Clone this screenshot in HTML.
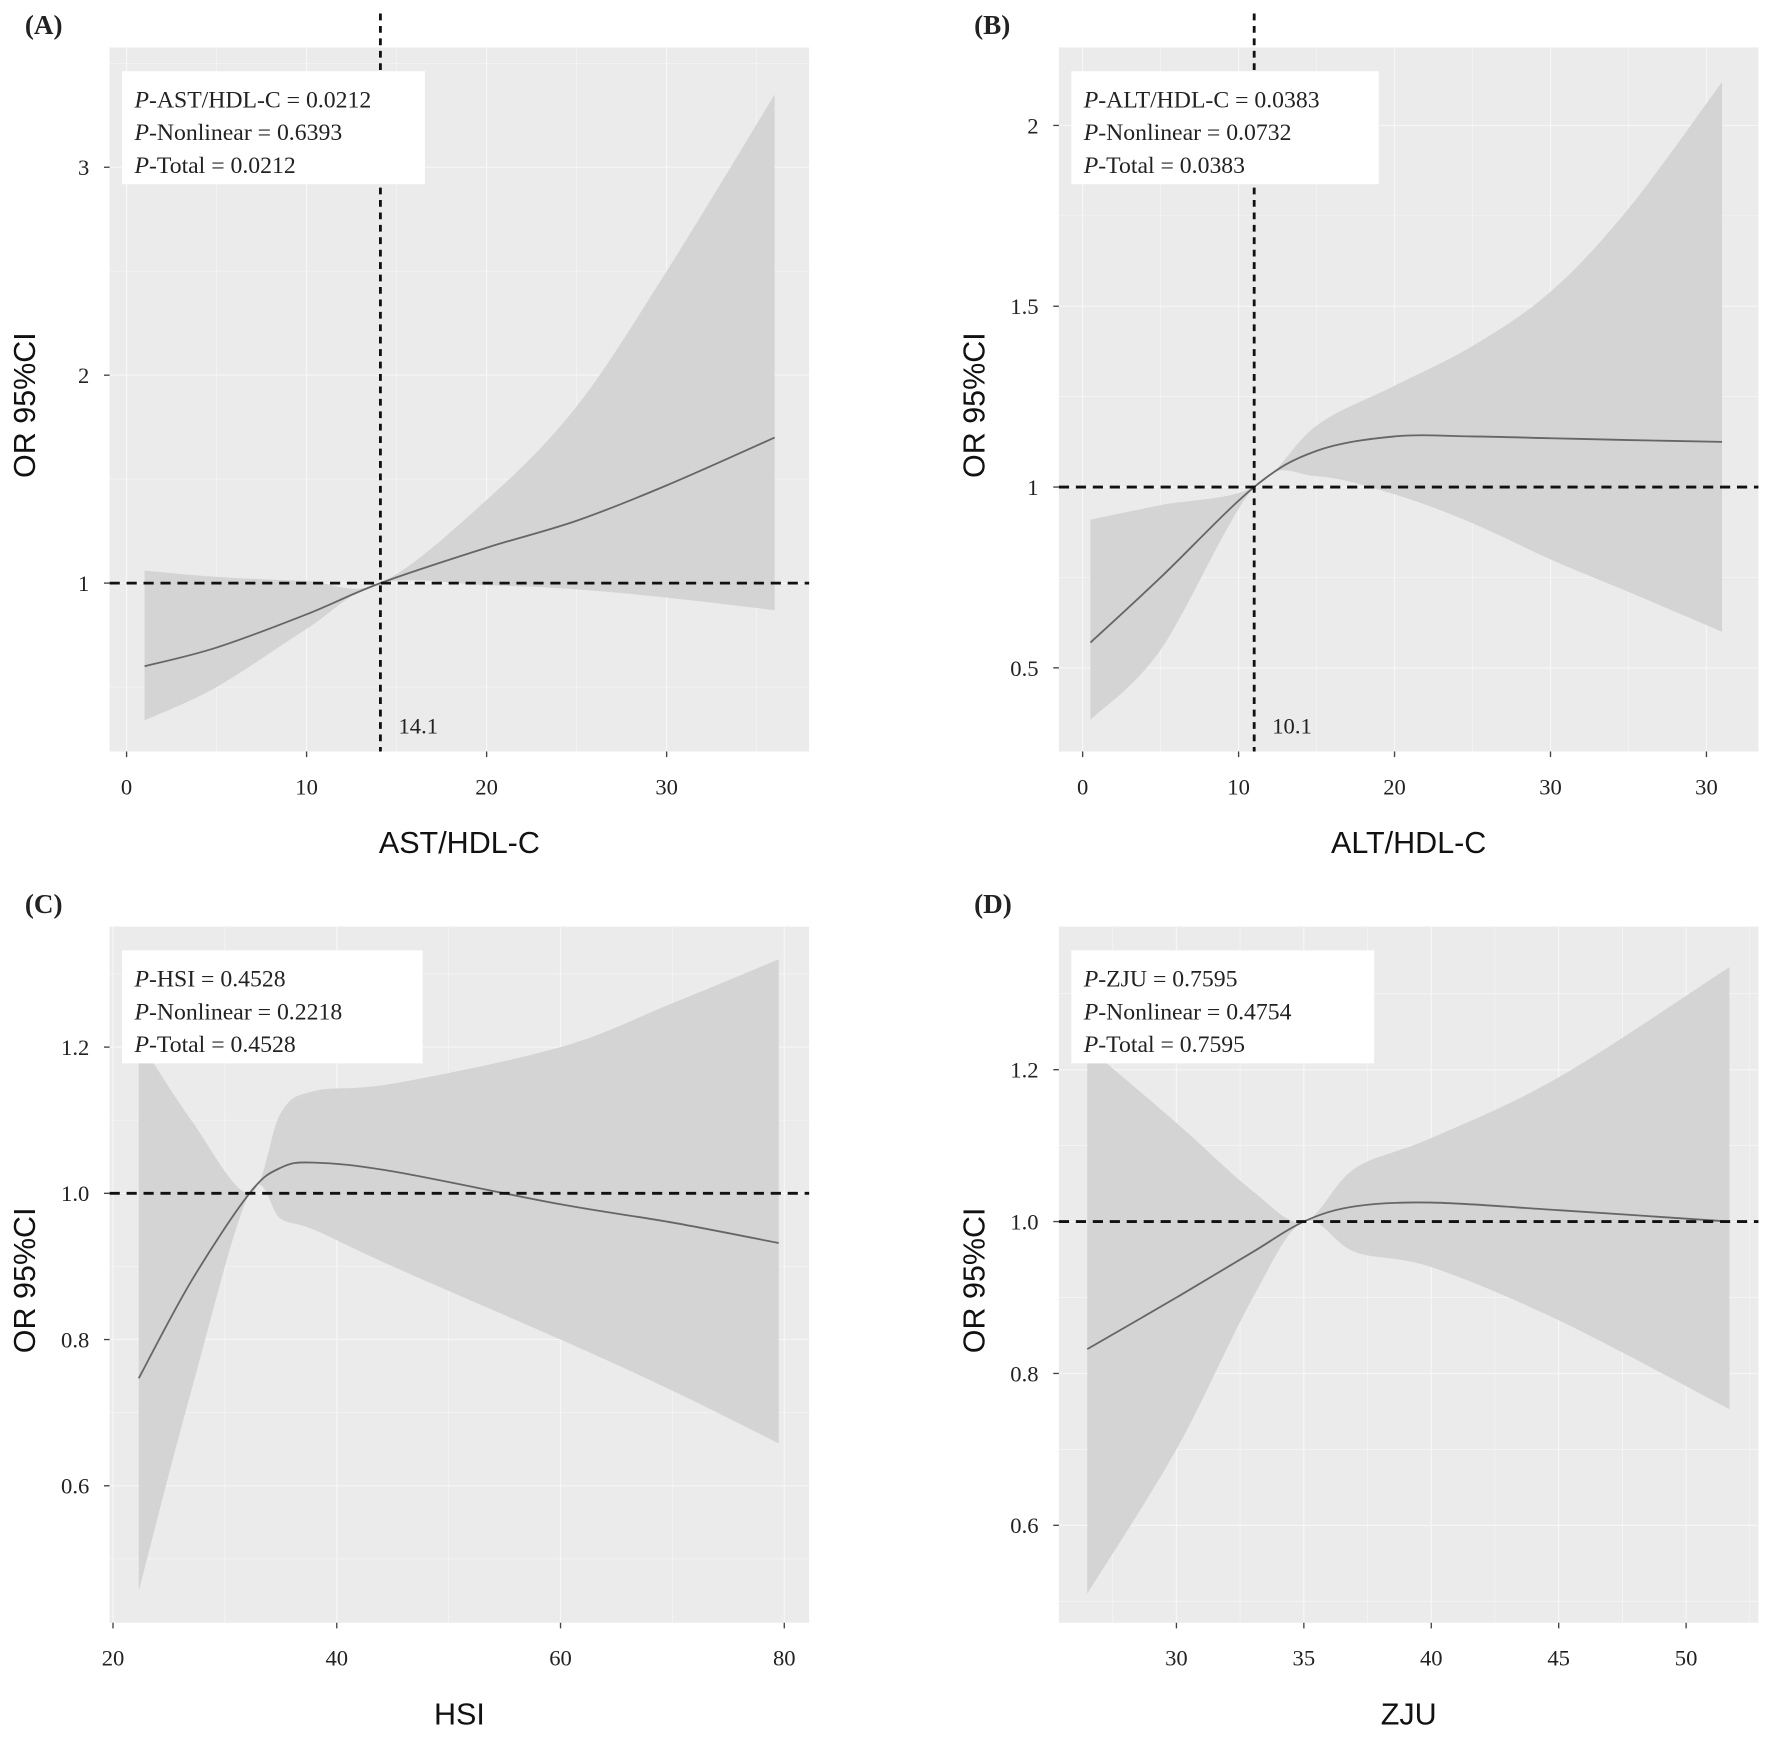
<!DOCTYPE html>
<html><head><meta charset="utf-8"><style>
html,body{margin:0;padding:0;background:#fff}
svg{display:block}
text{font-family:"Liberation Serif",serif;fill:#222}
.ax{font-family:"Liberation Sans",sans-serif;font-size:27px;fill:#111}
</style></head><body>
<svg id="fig" width="1772" height="1738" viewBox="0 0 1568 1538" preserveAspectRatio="none" xmlns="http://www.w3.org/2000/svg"></svg>
<script>
// Panel A data
const aX=[1,5,10,14.1,20,25,30,36];
const aOR=[0.60,0.69,0.85,1.0,1.17,1.30,1.47,1.70];
const aUp=[1.06,1.03,1.01,1.0,1.40,1.85,2.50,3.35];
const aLo=[0.34,0.50,0.78,1.0,0.99,0.97,0.93,0.87];
const aXT=[0,10,20,30];const aXL=["0","10","20","30"];
const aYT=[1,2,3];const aYL=["1","2","3"];
// Panel B data
const bX=[0.5,5,11,15,20,25,30,35,41];
const bOR=[0.57,0.75,1.0,1.10,1.14,1.14,1.135,1.13,1.125];
const bUp=[0.91,0.95,1.0,1.17,1.28,1.39,1.54,1.77,2.12];
const bLo=[0.356,0.55,1.0,1.03,0.98,0.90,0.80,0.71,0.60];
const bXT=[0,10,20,30,40];const bXL=["0","10","20","30","30"];
const bYT=[0.5,1,1.5,2];const bYL=["0.5","1","1.5","2"];
// Panel C data
const cX=[22.3,27,32.2,35,38,45,60,70,79.5];
const cOR=[0.747,0.88,1.0,1.035,1.042,1.03,0.985,0.96,0.932];
const cUp=[1.21,1.10,1.0,1.11,1.14,1.15,1.20,1.26,1.32];
const cLo=[0.456,0.73,1.0,0.965,0.95,0.90,0.80,0.73,0.658];
const cXT=[20,40,60,80];const cXL=["20","40","60","80"];
const cYT=[0.6,0.8,1.0,1.2];const cYL=["0.6","0.8","1.0","1.2"];
// Panel D data
const dX=[26.5,30,33,35,37,40,45,51.7];
const dOR=[0.832,0.90,0.96,1.0,1.02,1.025,1.015,1.0];
const dUp=[1.23,1.13,1.04,1.0,1.07,1.11,1.19,1.335];
const dLo=[0.51,0.70,0.90,1.0,0.96,0.94,0.87,0.753];
const dXT=[30,35,40,45,50];const dXL=["30","35","40","45","50"];
const dYT=[0.6,0.8,1.0,1.2];const dYL=["0.6","0.8","1.0","1.2"];

const NS="http://www.w3.org/2000/svg";
const svg=document.getElementById('fig');
function mk(tag,attrs,parent){const e=document.createElementNS(NS,tag);for(const k in attrs)e.setAttribute(k,attrs[k]);(parent||svg).appendChild(e);return e;}
function smooth(pts){let d="M"+pts[0][0]+","+pts[0][1];for(let i=0;i<pts.length-1;i++){const p0=pts[i-1]||pts[i],p1=pts[i],p2=pts[i+1],p3=pts[i+2]||p2;
const c1=[p1[0]+(p2[0]-p0[0])/6,p1[1]+(p2[1]-p0[1])/6],c2=[p2[0]-(p3[0]-p1[0])/6,p2[1]-(p3[1]-p1[1])/6];
d+=" C"+c1+" "+c2+" "+p2;}return d;}
function smoothRaw(pts){return smooth(pts).slice(1);}

function panel(o){
 const g=mk('g',{});
 
 
 const sx=v=>o.x0+(v-o.xa)*o.xs, sy=v=>o.y1v-(v-o.ya)*o.ys;
 const bg=mk('rect',{x:o.L,y:o.T,width:o.R-o.L,height:o.B-o.T,fill:'#ebebeb'},g);
 
 
 const xt=o.xt, yt=o.yt;
 const step=xt[1]-xt[0], ystep=yt[1]-yt[0];
 for(let v=xt[0]-step;v<=xt[xt.length-1]+step;v+=step/2){const x=sx(v);if(x<o.L||x>o.R)continue;
  mk('line',{x1:x,x2:x,y1:o.T,y2:o.B,stroke:'#f6f6f6','stroke-width':(Math.abs(((v-xt[0])/step)%1)<1e-6)?1.1:0.6},g);}
 for(let v=yt[0]-ystep;v<=yt[yt.length-1]+ystep;v+=ystep/2){const y=sy(v);if(y<o.T||y>o.B)continue;
  mk('line',{x1:o.L,x2:o.R,y1:y,y2:y,stroke:'#f6f6f6','stroke-width':(Math.abs(((v-yt[0])/ystep)%1)<1e-6)?1.1:0.6},g);}
 const up=o.X.map((v,i)=>[sx(v),sy(o.up[i])]);
 const lo=o.X.map((v,i)=>[sx(v),sy(o.lo[i])]).reverse();
 const rib=mk('path',{d:smooth(up)+" L"+lo[0]+smoothRaw(lo).replace(/^[^C]*/,'')+" Z",fill:'#d4d4d4'},g);
 
 
 const ln=mk('path',{d:smooth(o.X.map((v,i)=>[sx(v),sy(o.or[i])])),fill:'none',stroke:'#666','stroke-width':1.6},g);
 
 
 const ref=mk('line',{x1:o.L,x2:o.R,y1:sy(1),y2:sy(1),stroke:'#111','stroke-width':2.5,'stroke-dasharray':'9,6'},g);
 
 
 if(o.vline!==undefined){
  const vl=mk('line',{x1:sx(o.vline),x2:sx(o.vline),y1:o.T-30,y2:o.B,stroke:'#111','stroke-width':2.5,'stroke-dasharray':'6,5'},g);
  
  
  const vt=mk('text',{x:sx(o.vline)+16,y:o.B-16,'font-size':20},g);vt.textContent=o.vlabel;
  
  
 }
 xt.forEach((v,i)=>{const x=sx(v);mk('line',{x1:x,x2:x,y1:o.B,y2:o.B+5,stroke:'#444','stroke-width':1.2},g);
  const t=mk('text',{x:x,y:o.B+38,'font-size':20,'text-anchor':'middle'},g);t.textContent=o.xl[i];
  
  });
 yt.forEach((v,i)=>{const y=sy(v);mk('line',{x1:o.L-5,x2:o.L,y1:y,y2:y,stroke:'#444','stroke-width':1.2},g);
  const t=mk('text',{x:o.L-18,y:y+7,'font-size':20,'text-anchor':'end'},g);t.textContent=o.yl[i];
  
  });
 const bx=mk('rect',{x:o.L+11,y:o.T+21,width:o.boxW,height:100,fill:'#fff'},g);
 
 
 o.ptxt.forEach((s,i)=>{const t=mk('text',{x:o.L+22,y:o.T+53+i*29,'font-size':21},g);
  t.innerHTML='<tspan font-style="italic">P</tspan>'+s;
  
  });
 const xtl=mk('text',{x:(o.L+o.R)/2,y:o.B+90,'text-anchor':'middle',class:'ax'},g);xtl.textContent=o.xtitle;
 
 
 const cy=(o.T+o.B)/2+5;
 const ytl=mk('text',{x:o.L-66,y:cy,'text-anchor':'middle',class:'ax',transform:`rotate(-90 ${o.L-66} ${cy})`},g);ytl.textContent='OR 95%CI';
 
 
 const pl=mk('text',{x:o.L-75,y:o.T-12,'font-size':24,'font-weight':'bold'},g);pl.textContent=o.tag;
 
 
}
panel({id:'a',tag:'(A)',L:97,R:716,T:42,B:665,x0:112,xa:0,xs:15.93,y1v:516,ya:1,ys:184,X:aX,or:aOR,up:aUp,lo:aLo,xt:aXT,xl:aXL,yt:aYT,yl:aYL,vline:14.1,vlabel:'14.1',boxW:268,xtitle:'AST/HDL-C',
 ptxt:['-AST/HDL-C = 0.0212','-Nonlinear = 0.6393','-Total = 0.0212']});
panel({id:'b',tag:'(B)',L:937,R:1556,T:42,B:665,x0:958,xa:0,xs:13.8,y1v:431,ya:1,ys:320,X:bX,or:bOR,up:bUp,lo:bLo,xt:bXT,xl:bXL,yt:bYT,yl:bYL,vline:11,vlabel:'10.1',boxW:272,xtitle:'ALT/HDL-C',
 ptxt:['-ALT/HDL-C = 0.0383','-Nonlinear = 0.0732','-Total = 0.0383']});
panel({id:'c',tag:'(C)',L:97,R:716,T:820,B:1436,x0:100,xa:20,xs:9.9,y1v:1056,ya:1,ys:647,X:cX,or:cOR,up:cUp,lo:cLo,xt:cXT,xl:cXL,yt:cYT,yl:cYL,boxW:266,xtitle:'HSI',
 ptxt:['-HSI = 0.4528','-Nonlinear = 0.2218','-Total = 0.4528']});
panel({id:'d',tag:'(D)',L:937,R:1556,T:820,B:1436,x0:1041,xa:30,xs:22.55,y1v:1081,ya:1,ys:672,X:dX,or:dOR,up:dUp,lo:dLo,xt:dXT,xl:dXL,yt:dYT,yl:dYL,boxW:268,xtitle:'ZJU',
 ptxt:['-ZJU = 0.7595','-Nonlinear = 0.4754','-Total = 0.7595']});
</script>
</body></html>
